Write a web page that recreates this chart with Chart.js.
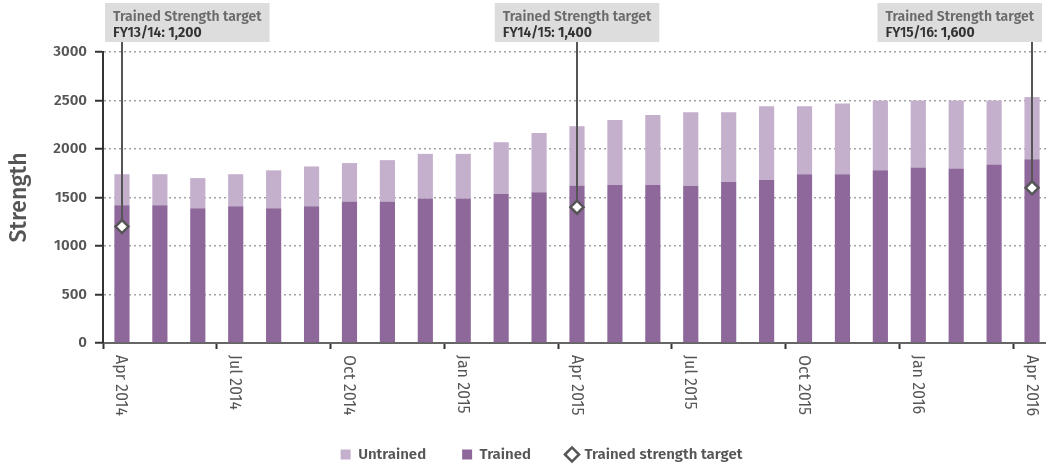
<!DOCTYPE html>
<html>
<head>
<meta charset="utf-8">
<script src="https://cdn.jsdelivr.net/npm/chart.js@4.4.0/dist/chart.umd.min.js"></script>
<style>
  html, body { margin: 0; padding: 0; overflow: hidden; background: #fff; }
  canvas { display: block; }
</style>
</head>
<body>
<canvas id="chart" width="1051" height="468"></canvas>
<script>
const months = ['Apr 2014', 'May 2014', 'Jun 2014', 'Jul 2014', 'Aug 2014', 'Sep 2014', 'Oct 2014', 'Nov 2014', 'Dec 2014',
  'Jan 2015', 'Feb 2015', 'Mar 2015', 'Apr 2015', 'May 2015', 'Jun 2015', 'Jul 2015', 'Aug 2015', 'Sep 2015', 'Oct 2015',
  'Nov 2015', 'Dec 2015', 'Jan 2016', 'Feb 2016', 'Mar 2016', 'Apr 2016'];
const trained = [1420, 1420, 1390, 1410, 1390, 1410, 1460, 1460, 1490, 1490, 1535, 1555, 1620,
  1630, 1630, 1620, 1660, 1680, 1740, 1740, 1780, 1810, 1800, 1840, 1895];
const untrained = [320, 320, 310, 330, 390, 410, 395, 425, 460, 460, 535, 610, 615,
  670, 720, 760, 720, 760, 700, 730, 720, 690, 700, 660, 640];
const targetMonths = ['Apr 2014', 'Apr 2015', 'Apr 2016'];
const targetYears = ['FY13/14', 'FY14/15', 'FY15/16'];
const targetValues = [1200, 1400, 1600];

const FONT = "'Fira Sans', 'Open Sans', sans-serif";
const targetData = months.map(m => {
  const i = targetMonths.indexOf(m);
  return i >= 0 ? targetValues[i] : null;
});

// x labels read top-to-bottom, so draw them ourselves
const monthLabels = {
  id: 'monthLabels',
  afterDraw(chart) {
    const ctx = chart.ctx;
    const xs = chart.scales.x;
    ctx.save();
    ctx.font = '16px ' + FONT;
    ctx.fillStyle = '#555';
    ctx.textAlign = 'left';
    ctx.textBaseline = 'middle';
    months.forEach((m, i) => {
      if (i % 3 !== 0) return;
      ctx.save();
      ctx.translate(xs.getPixelForValue(i) - 1, chart.chartArea.bottom + 12);
      ctx.rotate(Math.PI / 2);
      ctx.fillText(m, 0, 0);
      ctx.restore();
    });
    ctx.restore();
  }
};

const targetNotes = {
  id: 'targetNotes',
  beforeDatasetDraw(chart, args) {
    if (args.index !== 0) return;
    const ctx = chart.ctx;
    const meta = chart.getDatasetMeta(0);
    ctx.save();
    ctx.strokeStyle = '#555';
    ctx.lineWidth = 2;
    meta.data.forEach((pt, i) => {
      if (targetData[i] == null) return;
      ctx.beginPath();
      ctx.moveTo(Math.round(pt.x), 42);
      ctx.lineTo(Math.round(pt.x), pt.y);
      ctx.stroke();
    });
    ctx.restore();
  },
  afterDraw(chart) {
    const ctx = chart.ctx;
    const meta = chart.getDatasetMeta(0);
    ctx.save();
    meta.data.forEach((pt, i) => {
      if (targetData[i] == null) return;
      const k = targetMonths.indexOf(months[i]);
      const head = 'Trained Strength target';
      const pre = targetYears[k] + ': ';
      const val = targetValues[k].toLocaleString('en-GB');
      ctx.font = '600 14px ' + FONT;
      const w1 = ctx.measureText(head).width;
      const w2 = ctx.measureText(pre).width;
      ctx.font = 'bold 14px ' + FONT;
      const w3 = ctx.measureText(val).width;
      const bw = Math.max(w1, w2 + w3) + 16;
      let left = pt.x - bw / 2;
      left = Math.max(left, chart.chartArea.left + 2);
      left = Math.min(left, 1042 - bw);
      ctx.fillStyle = '#dcdddc';
      ctx.fillRect(left, 3, bw, 39);
      ctx.textBaseline = 'alphabetic';
      ctx.textAlign = 'left';
      ctx.font = '600 14px ' + FONT;
      ctx.fillStyle = '#6a6a6a';
      ctx.fillText(head, left + 8, 21);
      ctx.fillStyle = '#333';
      ctx.fillText(pre, left + 8, 37);
      ctx.font = 'bold 14px ' + FONT;
      ctx.fillText(val, left + 8 + w2, 37);
    });
    ctx.restore();
  }
};

const legendShift = {
  id: 'legendShift',
  afterLayout(chart) {
    const lg = chart.legend;
    lg.left += 16; lg.right += 16;
    lg.top += 4; lg.bottom += 4;
  }
};

new Chart(document.getElementById('chart'), {
  data: {
    labels: months,
    datasets: [
      {
        type: 'line',
        label: 'Trained strength target',
        data: targetData,
        stack: 'target',
        showLine: false,
        pointStyle: 'rectRot',
        pointRadius: 6.5,
        pointBorderWidth: 2.5,
        pointBorderColor: '#555',
        pointBackgroundColor: '#fff',
        borderColor: '#555',
        backgroundColor: '#fff'
      },
      {
        type: 'bar',
        label: 'Trained',
        data: trained,
        stack: 'strength',
        backgroundColor: '#8e689a',
        barPercentage: 0.4,
        categoryPercentage: 1
      },
      {
        type: 'bar',
        label: 'Untrained',
        data: untrained,
        stack: 'strength',
        backgroundColor: '#c4afcd',
        barPercentage: 0.4,
        categoryPercentage: 1
      }
    ]
  },
  options: {
    responsive: false,
    animation: false,
    layout: { autoPadding: false, padding: { top: 52, left: 0, right: 0, bottom: 0 } },
    plugins: {
      tooltip: { enabled: false },
      legend: {
        position: 'bottom',
        labels: {
          usePointStyle: true,
          boxWidth: 10,
          boxHeight: 10,
          padding: 36,
          color: '#555',
          font: { family: FONT, size: 15, weight: '600' },
          sort: (a, b) => [2, 1, 0].indexOf(a.datasetIndex) - [2, 1, 0].indexOf(b.datasetIndex),
          generateLabels(chart) {
            const items = Chart.defaults.plugins.legend.labels.generateLabels(chart);
            items.forEach(it => {
              it.pointStyle = it.datasetIndex === 0 ? 'rectRot' : 'rect';
              if (it.datasetIndex === 0) { it.lineWidth = 2.5; it.strokeStyle = '#555'; it.fillStyle = '#fff'; }
              else { it.lineWidth = 0; }
            });
            return items;
          }
        }
      }
    },
    scales: {
      x: {
        stacked: true,
        offset: true,
        grid: {
          offset: true,
          drawOnChartArea: false,
          drawTicks: true,
          tickLength: 6,
          tickWidth: 2,
          tickColor: ctx => (ctx.index % 3 === 0 ? '#333' : 'rgba(0,0,0,0)')
        },
        border: { display: true, color: '#666', width: 2 },
        ticks: { display: false, autoSkip: false },
        afterFit(scale) { scale.height = 64; }
      },
      y: {
        stacked: true,
        min: 0,
        max: 3000,
        grid: {
          color: ctx => (ctx.tick && ctx.tick.value === 0 ? 'rgba(0,0,0,0)' : '#a3a3a3'),
          lineWidth: 1.5,
          drawTicks: true,
          tickLength: 8,
          tickWidth: 2,
          tickColor: '#333',
          tickBorderDash: []
        },
        border: { display: true, color: '#333', width: 2, dash: [2, 3] },
        ticks: {
          stepSize: 500,
          padding: 8,
          color: '#555',
          font: { family: FONT, size: 15, weight: '600' },
          callback: v => String(v)
        },
        title: {
          display: true,
          text: 'Strength',
          color: '#555',
          padding: { top: 6, bottom: 0 },
          font: { family: FONT, size: 23, weight: '500' }
        },
        afterFit(scale) { scale.width = 103; }
      }
    }
  },
  plugins: [monthLabels, targetNotes, legendShift]
});
</script>
</body>
</html>
